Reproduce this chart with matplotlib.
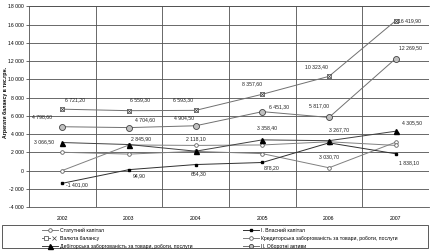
import numpy as np
import matplotlib
matplotlib.use("Agg")
import matplotlib.pyplot as plt
from matplotlib.lines import Line2D
from matplotlib.patches import Rectangle
from matplotlib.legend_handler import HandlerTuple

plt.rcParams['font.family'] = ['Liberation Sans Narrow', 'Liberation Sans', 'DejaVu Sans']

years = ['2002', '2003', '2004', '2005', '2006', '2007']
statutnyi = [2000, 1800, 2100, 1850, 300, 3100]
valiuta = [6721.20, 6559.30, 6593.30, 8357.60, 10323.40, 16419.90]
debitorska = [3066.50, 2845.90, 2118.10, 3358.40, 3267.70, 4305.50]
vlasnyi = [-1401.00, 94.90, 654.30, 878.20, 3030.70, 1838.10]
kredytorska = [0, 2800, 2750, 2800, 3150, 2750]
oborotni = [4798.60, 4704.60, 4904.50, 6451.30, 5817.00, 12269.50]

# label offsets in pixels (dx, dy up)
off_valiuta = [(13, 9), (11, 11), (-13, 11), (-10, 10), (-13, 10), (14, 0)]
off_oborotni = [(-20, 10), (16, 8), (-12, 8), (17, 5), (-10, 12), (15, 11)]
off_debitorska = [(-18, 1), (12, 6), (0, 12), (5, 12), (10, 11), (16, 8)]
off_vlasnyi = [(15, -1), (10, -6), (3, -9), (9, -5), (0, -14), (13, -9)]

W, H = 434, 252
fig = plt.figure(figsize=(W / 100, H / 100), dpi=100)
ax = fig.add_axes([29 / W, 1 - 207 / H, (429 - 29) / W, (207 - 6.3) / H])

x = np.arange(len(years))
fs = 3.7
grid_c = '#505050'

ax.plot(x, statutnyi, color='#808080', lw=0.7, marker='o', ms=2.6,
        mfc='white', mec='#606060', mew=0.6, zorder=3)
ax.plot(x, kredytorska, color='#808080', lw=0.7, marker='o', ms=2.6,
        mfc='white', mec='#606060', mew=0.6, zorder=3)
ax.plot(x, valiuta, color='#707070', lw=0.7, marker='s', ms=3,
        mfc='white', mec='#404040', mew=0.5, zorder=3)
ax.plot(x, valiuta, ls='none', marker='x', ms=2.4, mec='#404040', mew=0.5, zorder=4)
ax.plot(x, oborotni, color='#707070', lw=0.7, marker='o', ms=4.3,
        mfc='#c0c0c0', mec='#404040', mew=0.6, zorder=3)
ax.plot(x, debitorska, color='#404040', lw=0.7, marker='^', ms=3.6,
        mfc='black', mec='black', zorder=4)
ax.plot(x, vlasnyi, color='#303030', lw=0.7, marker='s', ms=2,
        mfc='black', mec='black', zorder=4)


def fmt(v):
    return f"{v:,.2f}".replace(',', ' ').replace('.', ',')


for vals, offs in [(valiuta, off_valiuta), (oborotni, off_oborotni),
                   (debitorska, off_debitorska), (vlasnyi, off_vlasnyi)]:
    for xi, v, (dx, dy) in zip(x, vals, offs):
        ax.annotate(fmt(v), (xi, v), xytext=(dx * 0.72, dy * 0.72),
                    textcoords='offset points', ha='center', va='center',
                    fontsize=fs, color='#202020', zorder=5)

ax.set_xlim(-0.5, 5.5)
ax.set_ylim(-4000, 18000)
ax.set_yticks(np.arange(-4000, 18001, 2000))
ax.set_yticklabels([f"{t:,}".replace(',', ' ') for t in range(-4000, 18001, 2000)])
ax.set_xticks(x)
ax.set_xticklabels(years)
ax.set_xticks(np.arange(0.5, 5.5, 1), minor=True)
ax.tick_params(axis='y', labelsize=fs, length=2.5, width=0.6, color=grid_c, pad=1.5)
ax.tick_params(axis='x', which='both', labelsize=fs, length=0, pad=6.5)
ax.grid(axis='y', which='major', color=grid_c, lw=0.6)
ax.grid(axis='x', which='minor', color=grid_c, lw=0.6)
ax.set_axisbelow(True)
for side in ['top', 'bottom', 'left']:
    ax.spines[side].set_color(grid_c)
    ax.spines[side].set_linewidth(0.6)
ax.spines['right'].set_visible(False)

fig.text(5 / W, 1 - 103 / H, 'Агрегати балансу в тис.грн.', rotation=90,
         ha='center', va='center', fontsize=fs, fontweight='bold')

# legend
fig.patches.append(Rectangle((2 / W, 1 - 248 / H), 426 / W, 23 / H,
                             transform=fig.transFigure, fill=False,
                             ec='#404040', lw=0.6))

h_stat = Line2D([], [], color='#808080', lw=0.7, marker='o', ms=2.6, mfc='white', mec='#606060', mew=0.6)
h_val = (Line2D([], [], color='#707070', lw=0.7, marker='s', ms=3, mfc='white', mec='#404040', mew=0.5),
         Line2D([], [], ls='none', marker='x', ms=2.4, mec='#404040', mew=0.5))
h_deb = Line2D([], [], color='#404040', lw=0.7, marker='^', ms=3.6, mfc='black', mec='black')
h_vl = Line2D([], [], color='#303030', lw=0.7, marker='s', ms=2, mfc='black', mec='black')
h_kr = Line2D([], [], color='#808080', lw=0.7, marker='o', ms=2.6, mfc='white', mec='#606060', mew=0.6)
h_ob = Line2D([], [], color='#707070', lw=0.7, marker='o', ms=3, mfc='#c0c0c0', mec='#404040', mew=0.6)

kw = dict(frameon=False, fontsize=fs, handlelength=3.2, handletextpad=0.3,
          labelspacing=0.55, borderpad=0, handler_map={tuple: HandlerTuple(ndivide=None)})
leg1 = fig.legend([h_stat, h_val, h_deb],
                  ['Статутний капітал', 'Валюта балансу',
                   'Дебіторська заборгованість за товари, роботи, послуги'],
                  loc='upper left', bbox_to_anchor=(39 / W, 1 - 225.5 / H), **kw)
leg2 = fig.legend([h_vl, h_kr, h_ob],
                  ['I. Власний капітал',
                   'Кредиторська заборгованість за товари, роботи, послуги',
                   'II. Оборотні активи'],
                  loc='upper left', bbox_to_anchor=(240 / W, 1 - 225.5 / H), **kw)

fig.savefig('out.png', dpi=100, facecolor='white')
